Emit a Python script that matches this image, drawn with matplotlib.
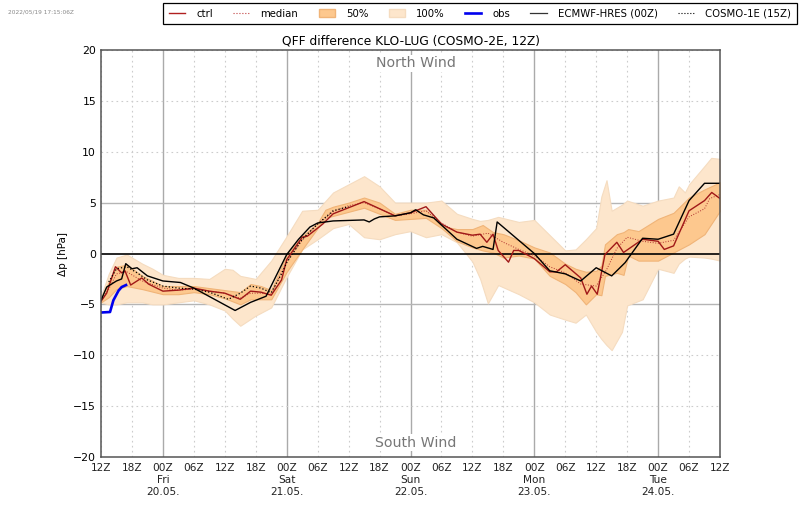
import numpy as np
import matplotlib
matplotlib.use('Agg')
import matplotlib.pyplot as plt
from matplotlib.lines import Line2D
from matplotlib.patches import Patch

# hours since the 12Z run start
env_hours = [0, 1.5, 3, 5, 8, 10, 12, 15, 18, 21, 24, 25.5, 27, 30, 33, 36, 39, 42, 45, 48, 51, 54, 57, 60, 63, 66, 69, 72, 73.5, 75, 77, 81, 84, 87, 90, 92, 94, 96, 97, 98, 99, 101, 102, 105, 108, 111, 112, 113.2, 114, 117, 118.3, 120]
env_max = [-4.2, -2.0, -0.4, -0.1, -1.0, -1.5, -2.1, -2.4, -2.4, -2.5, -1.5, -1.6, -2.2, -2.5, -0.7, 1.7, 4.2, 4.3, 6.0, 6.8, 7.6, 6.6, 5.0, 5.0, 5.0, 5.2, 3.9, 3.4, 3.2, 3.3, 3.6, 3.1, 3.3, 1.8, 0.3, 0.4, 1.4, 2.5, 5.6, 7.2, 4.2, 4.8, 5.2, 4.7, 5.2, 5.5, 6.6, 6.0, 6.8, 8.6, 9.4, 9.3]
env_min = [-4.8, -5.0, -5.0, -4.8, -4.8, -5.0, -5.0, -4.8, -4.6, -5.0, -5.6, -6.4, -7.1, -6.1, -5.3, -2.3, 0.4, 1.4, 2.5, 2.9, 1.6, 1.4, 1.9, 2.2, 1.6, 1.9, 1.1, -0.8, -2.5, -4.9, -3.1, -4.0, -4.8, -6.0, -6.5, -6.8, -6.0, -7.7, -8.4, -9.0, -9.5, -7.7, -5.1, -4.5, -1.5, -1.9, -1.0, -0.5, -0.3, -0.4, -0.5, -0.7]

iqr_hours = [0, 1.5, 3, 5, 8, 12, 15, 18, 21, 24, 27, 29, 31, 33, 36, 39, 42, 43.5, 45, 48, 51, 54, 57, 60, 63, 66, 69, 72, 74, 76, 78, 81, 84, 87, 90, 92, 94, 96, 97, 97.7, 100, 101.3, 102.2, 104.2, 108, 111, 114, 117, 120]
iqr_max = [-4.4, -2.8, -1.3, -1.1, -2.2, -3.2, -3.2, -3.2, -3.4, -3.6, -3.8, -3.0, -3.2, -3.6, -0.1, 1.7, 3.0, 4.3, 4.6, 5.0, 5.5, 5.0, 3.9, 4.3, 4.3, 2.7, 2.4, 2.4, 2.8, 2.1, 1.9, 1.3, 0.6, 0.1, -1.0, -1.5, -1.8, -1.7, -1.2, 0.9, 1.9, 2.1, 2.4, 2.2, 3.4, 4.0, 5.5, 6.3, 7.0]
iqr_min = [-4.8, -4.3, -3.5, -3.2, -3.5, -4.0, -4.0, -3.8, -4.0, -4.4, -5.0, -4.5, -4.5, -4.5, -1.8, 0.4, 2.5, 3.5, 3.7, 4.1, 4.5, 3.9, 3.3, 3.4, 3.5, 2.5, 1.2, 0.6, 0.3, 0.1, -0.4, -0.2, -0.5, -2.2, -3.0, -3.8, -5.0, -4.0, -4.1, -2.2, -1.9, -2.1, -0.2, -0.7, -0.7, 0.1, 0.9, 1.9, 4.2]

median_hours = [0, 1.5, 3, 5, 8, 12, 15, 18, 21, 24, 27, 29, 31, 33, 36, 39, 42, 45, 48, 51, 54, 57, 60, 63, 66, 69, 72, 75, 78, 81, 84, 87, 90, 93, 96, 98, 100, 102, 105, 108, 111, 114, 117, 118, 120]
median_vals = [-4.6, -3.5, -2.0, -1.8, -2.7, -3.4, -3.6, -3.5, -3.7, -3.9, -4.4, -3.9, -3.9, -4.0, -0.8, 1.3, 2.9, 4.1, 4.7, 5.0, 4.4, 3.7, 3.9, 4.2, 3.0, 2.1, 1.7, 2.0, 1.1, 0.4, -0.2, -1.3, -1.9, -3.0, -3.2, -1.6, 0.5, 1.6, 1.2, 1.0, 1.3, 3.6, 4.4, 5.4, 5.8]

ctrl_hours = [0, 1.1, 1.75, 2.8, 4, 4.65, 5.75, 7.9, 9.2, 12, 15, 18, 21, 24, 27, 29, 31, 33, 35, 36, 39, 40, 43, 45, 48, 51, 54, 57, 60, 63, 66, 69, 72, 73.5, 74.8, 76, 77, 79, 80, 81, 84, 87, 88.3, 90, 93, 94.2, 95.1, 96.2, 97.7, 100, 101.3, 105, 108, 109.2, 111, 114, 117, 118.4, 120]
ctrl_vals = [-4.7, -3.9, -2.9, -1.3, -1.9, -1.7, -3.1, -2.4, -3.0, -3.7, -3.6, -3.4, -3.7, -3.9, -4.5, -3.7, -3.8, -4.1, -2.6, -0.6, 1.6, 1.7, 2.9, 3.9, 4.5, 5.1, 4.4, 3.7, 4.0, 4.6, 2.9, 2.1, 1.8, 1.9, 1.1, 1.9, 0.3, -0.85, 0.3, 0.3, -0.5, -1.8, -1.8, -1.1, -2.4, -4.0, -3.2, -4.0, -0.1, 1.1, 0.1, 1.4, 1.2, 0.4, 0.75, 4.2, 5.2, 6.0, 5.4]

hres_hours = [0, 1.1, 3, 4, 4.8, 6, 7, 9, 12, 15.4, 18, 26, 29, 32, 36, 38.3, 40.5, 42, 45, 51, 52, 53, 54, 57, 60, 61, 62.5, 64.5, 69, 72.8, 74, 76, 76.8, 84, 87, 90, 93, 96, 99, 101.6, 105, 108, 111, 114, 117, 120]
hres_vals = [-4.6, -3.3, -2.7, -2.5, -1.0, -1.5, -1.4, -2.2, -2.7, -2.85, -3.4, -5.6, -4.8, -4.2, -0.1, 1.4, 2.6, 3.0, 3.2, 3.3, 3.1, 3.4, 3.6, 3.7, 4.0, 4.3, 3.8, 3.5, 1.4, 0.5, 0.7, 0.4, 3.1, 0.0, -1.7, -2.0, -2.7, -1.4, -2.2, -0.9, 1.5, 1.4, 1.9, 5.2, 6.9, 6.9]

c1e_hours = [1.5, 3, 5, 7, 9, 12, 15, 18, 21, 24.7, 27, 29, 31, 33, 35, 36, 39, 42, 45, 48]
c1e_vals = [-2.8, -1.5, -1.3, -1.9, -2.6, -3.2, -3.4, -3.5, -3.8, -4.5, -3.9, -3.2, -3.4, -3.85, -2.0, -0.9, 1.4, 2.9, 4.2, 4.6]

obs_hours = [0, 1.75, 2.4, 3.4, 4, 4.85]
obs_vals = [-5.8, -5.75, -4.6, -3.65, -3.3, -3.1]

xticks = list(range(0, 121, 6))
xlabels = ['12Z', '18Z', '00Z\nFri\n20.05.', '06Z', '12Z', '18Z', '00Z\nSat\n21.05.', '06Z', '12Z', '18Z', '00Z\nSun\n22.05.', '06Z', '12Z', '18Z', '00Z\nMon\n23.05.', '06Z', '12Z', '18Z', '00Z\nTue\n24.05.', '06Z', '12Z']
yticks = list(range(-20, 21, 5))

fig = plt.figure(figsize=(8, 5.09), dpi=100)
ax = fig.add_axes([101/800, 1-457/509, 619/800, 407/509])

# grid, major lines only at 00Z and +-5
for h in xticks:
    if h % 24 == 12:
        ax.axvline(h, color='#aaaaaa', lw=1, zorder=1)
    else:
        ax.axvline(h, color='#cccccc', lw=0.8, ls=(0, (1.5, 3)), zorder=1)
for v in yticks:
    if v in (-5, 5):
        ax.axhline(v, color='#b5b5b5', lw=1, zorder=1)
    elif v != 0:
        ax.axhline(v, color='#cccccc', lw=0.8, ls=(0, (1.5, 3)), zorder=1)

ax.fill_between(env_hours, env_min, env_max, color='#fde6cc', lw=0.8, ec='#f5dcc0', zorder=2)
ax.fill_between(iqr_hours, iqr_min, iqr_max, color='#fdc88e', lw=0.8, ec='#f0b478', zorder=3)
ax.axhline(0, color='black', lw=1.2, zorder=4)
ax.plot(median_hours, median_vals, color='#b03030', lw=0.7, ls=':', zorder=5)
ax.plot(ctrl_hours, ctrl_vals, color='#a01818', lw=1.0, zorder=6)
ax.plot(c1e_hours, c1e_vals, color='black', lw=0.9, ls=':', zorder=6)
ax.plot(hres_hours, hres_vals, color='black', lw=1.0, zorder=7)
ax.plot(obs_hours, obs_vals, color='#0000ee', lw=1.9, zorder=7)

ax.set_xlim(0, 120)
ax.set_ylim(-20, 20)
ax.set_xticks(xticks)
ax.set_xticklabels(xlabels, fontsize=7.6, color='#222222', linespacing=1.25)
ax.set_yticks(yticks)
ax.tick_params(axis='x', length=0, pad=4)
ax.tick_params(axis='y', length=0, pad=3.5, labelsize=7.8)
ax.set_ylabel('Δp [hPa]', fontsize=7.5)
ax.yaxis.set_label_coords(-33/619, 0.5)
ax.set_title('QFF difference KLO-LUG (COSMO-2E, 12Z)', fontsize=8.8, pad=4)
for s in ax.spines.values():
    s.set_color('#555555')
    s.set_linewidth(1.1)
    s.set_zorder(8)

ax.text(61, 18.7, 'North Wind', ha='center', va='center', fontsize=10.2, color='#777777', zorder=9,
        bbox=dict(fc='white', ec='none', pad=1))
ax.text(61, -18.6, 'South Wind', ha='center', va='center', fontsize=10.2, color='#777777', zorder=9,
        bbox=dict(fc='white', ec='none', pad=1))

fig.text(8/800, 1-12/509, '2022/05/19 17:15:06Z', fontsize=4.2, color='#888888', va='center')

handles = [
    Line2D([], [], color='#b02020', lw=1.0),
    Line2D([], [], color='#c04040', lw=0.8, ls=':'),
    Patch(fc='#fdc88e', ec='#f0b478'),
    Patch(fc='#fde6cc', ec='#f5dcc0'),
    Line2D([], [], color='#0000ee', lw=1.9),
    Line2D([], [], color='#333333', lw=0.9),
    Line2D([], [], color='black', lw=0.8, ls=':'),
]
labels = ['ctrl', 'median', '50%', '100%', 'obs', 'ECMWF-HRES (00Z)', 'COSMO-1E (15Z)']
leg = fig.legend(handles, labels, ncol=7, fontsize=7.3, loc='upper right', bbox_to_anchor=(797/800, 1-3/509),
                 borderaxespad=0, fancybox=False, edgecolor='black', framealpha=1,
                 handlelength=1.6, handletextpad=1.1, columnspacing=2.0, borderpad=0.55)
leg.get_frame().set_linewidth(0.9)

fig.savefig('out.png', dpi=100)
